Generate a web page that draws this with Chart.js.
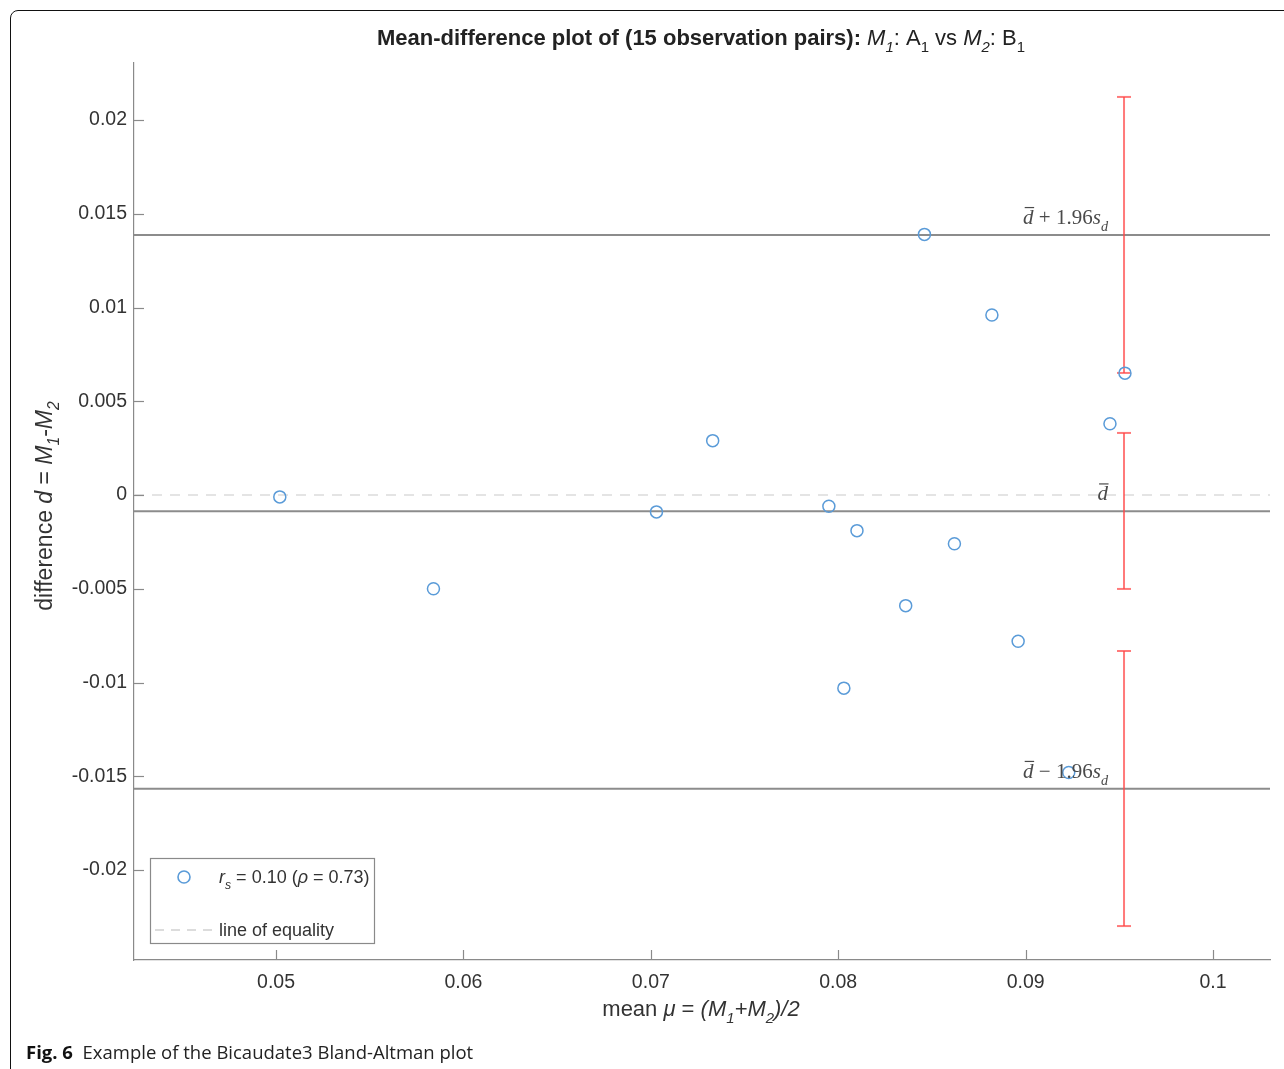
<!DOCTYPE html>
<html>
<head>
<meta charset="utf-8">
<script src="https://cdn.jsdelivr.net/npm/chart.js@4.4.1/dist/chart.umd.min.js"></script>
<style>
  html, body { margin: 0; padding: 0; background: #fff; width: 1284px; height: 1069px; overflow: hidden; }
  #wrap { position: relative; width: 1284px; height: 1069px; }
  #c { position: absolute; left: 0; top: 0; }
  #frame { position: absolute; left: 10px; top: 10px; width: 1400px; height: 1200px; border: 1.5px solid #111; border-radius: 8px; pointer-events: none; }
  #cap { position: absolute; left: 26px; top: 1040px; font-family: "Open Sans", sans-serif; font-size: 18.5px; line-height: 24px; color: #222; white-space: pre; }
  #cap b { color: #111; }
</style>
</head>
<body>
<div id="wrap">
  <canvas id="c" width="1284" height="1069"></canvas>
  <div id="frame"></div>
  <div id="cap"><b>Fig. 6</b>  Example of the Bicaudate3 Bland-Altman plot</div>
</div>
<script>
// ---- data ----
const meanVals = [0.0502, 0.0584, 0.0703, 0.0733, 0.0795, 0.0803, 0.0810, 0.0836, 0.0846, 0.0862, 0.0882, 0.0896, 0.0923, 0.0945, 0.0953];
const diffVals = [-0.0001, -0.0050, -0.0009, 0.0029, -0.0006, -0.0103, -0.0019, -0.0059, 0.0139, -0.0026, 0.0096, -0.0078, -0.0148, 0.0038, 0.0065];
const meanDiff = -0.00087;
const upperLoA = 0.01387;
const lowerLoA = -0.01567;
const ciX = 0.09525;
const upperCI = [0.00651, 0.02123];
const meanCI = [-0.00501, 0.00331];
const lowerCI = [-0.02299, -0.00832];
const equalityY = 0;
const xTicks = [0.05, 0.06, 0.07, 0.08, 0.09, 0.1];
const yTicks = [-0.02, -0.015, -0.01, -0.005, 0, 0.005, 0.01, 0.015, 0.02];
const xTickLabels = ["0.05", "0.06", "0.07", "0.08", "0.09", "0.1"];
const yTickLabels = ["-0.02", "-0.015", "-0.01", "-0.005", "0", "0.005", "0.01", "0.015", "0.02"];
const X_MIN = 0.04242, X_MAX = 0.10304;
const Y_MIN = -0.0248, Y_MAX = 0.02304;

const SANS = '"Liberation Sans", Arial, sans-serif';
const SERIF = '"Liberation Serif", "DejaVu Serif", serif';
const AXIS_GRAY = '#8a8a8a';
const RED = 'rgba(255,70,70,0.72)';

function segFont(s, size, family) {
  const sz = s.sub ? size * 0.68 : size;
  return (s.i ? 'italic ' : '') + (s.b ? 'bold ' : '') + sz + 'px ' + family;
}
function rich(ctx, segs, x, y, size, family, color, align) {
  ctx.save();
  ctx.fillStyle = color;
  ctx.strokeStyle = color;
  ctx.textBaseline = 'alphabetic';
  ctx.textAlign = 'left';
  let total = 0;
  const widths = segs.map(s => { ctx.font = segFont(s, size, family); const w = ctx.measureText(s.t).width; total += w; return w; });
  let cx = align === 'center' ? x - total / 2 : (align === 'right' ? x - total : x);
  segs.forEach((s, k) => {
    ctx.font = segFont(s, size, family);
    const dy = s.sub ? size * 0.32 : 0;
    ctx.fillText(s.t, cx, y + dy);
    if (s.ol) {
      ctx.lineWidth = 1.2;
      ctx.beginPath();
      ctx.moveTo(cx + widths[k] * 0.15, y - size * 0.78);
      ctx.lineTo(cx + widths[k] * 1.05, y - size * 0.78);
      ctx.stroke();
    }
    cx += widths[k];
  });
  ctx.restore();
}

const decorPlugin = {
  id: 'decor',
  afterDatasetsDraw(chart) {
    const ctx = chart.ctx;
    const xs = chart.scales.x, ys = chart.scales.y;
    const ca = chart.chartArea;
    // inward tick marks
    ctx.save();
    ctx.strokeStyle = AXIS_GRAY;
    ctx.lineWidth = 1.2;
    xTicks.forEach(v => {
      const px = Math.round(xs.getPixelForValue(v)) + 0.5;
      ctx.beginPath(); ctx.moveTo(px, ca.bottom); ctx.lineTo(px, ca.bottom - 10); ctx.stroke();
    });
    yTicks.forEach(v => {
      const py = Math.round(ys.getPixelForValue(v)) + 0.5;
      ctx.beginPath(); ctx.moveTo(ca.left, py); ctx.lineTo(ca.left + 10, py); ctx.stroke();
    });
    ctx.restore();
    // limit annotations
    const ax = xs.getPixelForValue(ciX) - 16;
    const annColor = '#4a4a4a';
    rich(ctx, [{t: 'd', i: true, ol: true}, {t: ' + 1.96'}, {t: 's', i: true}, {t: 'd', i: true, sub: true}], ax, ys.getPixelForValue(upperLoA) - 11, 21, SERIF, annColor, 'right');
    rich(ctx, [{t: 'd', i: true, ol: true}], ax, ys.getPixelForValue(meanDiff) - 11, 21, SERIF, annColor, 'right');
    rich(ctx, [{t: 'd', i: true, ol: true}, {t: ' \u2212 1.96'}, {t: 's', i: true}, {t: 'd', i: true, sub: true}], ax, ys.getPixelForValue(lowerLoA) - 11, 21, SERIF, annColor, 'right');
  },
  afterDraw(chart) {
    const ctx = chart.ctx;
    // title
    rich(ctx, [
      {t: 'Mean-difference plot of (15 observation pairs): ', b: true},
      {t: 'M', i: true}, {t: '1', i: true, sub: true}, {t: ': A'}, {t: '1', sub: true},
      {t: ' vs '}, {t: 'M', i: true}, {t: '2', i: true, sub: true}, {t: ': B'}, {t: '1', sub: true}
    ], 701, 45, 22, SANS, '#222', 'center');
    // x label
    rich(ctx, [
      {t: 'mean '}, {t: '\u03bc', i: true}, {t: ' = '}, {t: '(M', i: true}, {t: '1', i: true, sub: true},
      {t: '+M', i: true}, {t: '2', i: true, sub: true}, {t: ')/2', i: true}
    ], 701, 1016, 22, SANS, '#333', 'center');
    // y label
    ctx.save();
    ctx.translate(52, 506);
    ctx.rotate(-Math.PI / 2);
    rich(ctx, [
      {t: 'difference '}, {t: 'd', i: true}, {t: ' = '}, {t: 'M', i: true}, {t: '1', i: true, sub: true},
      {t: '-'}, {t: 'M', i: true}, {t: '2', i: true, sub: true}
    ], 0, 0, 23, SANS, '#333', 'center');
    ctx.restore();
    // legend box
    ctx.save();
    ctx.fillStyle = '#fff';
    ctx.fillRect(150, 858, 224, 85);
    ctx.strokeStyle = '#8a8a8a';
    ctx.lineWidth = 1.2;
    ctx.strokeRect(150.5, 858.5, 224, 85);
    ctx.strokeStyle = '#5a9bd8';
    ctx.lineWidth = 1.6;
    ctx.beginPath(); ctx.arc(184, 877, 6, 0, Math.PI * 2); ctx.stroke();
    ctx.strokeStyle = '#dcdcdc';
    ctx.lineWidth = 2;
    ctx.setLineDash([9, 7]);
    ctx.beginPath(); ctx.moveTo(155, 930); ctx.lineTo(212, 930); ctx.stroke();
    ctx.restore();
    rich(ctx, [{t: 'r', i: true}, {t: 's', i: true, sub: true}, {t: ' = 0.10 ('}, {t: '\u03c1', i: true}, {t: ' = 0.73)'}], 219, 883, 18, SANS, '#333', 'left');
    rich(ctx, [{t: 'line of equality'}], 219, 936, 18, SANS, '#333', 'left');
  }
};

const pts = meanVals.map((m, k) => ({x: m, y: diffVals[k]}));
const hline = (y) => [{x: X_MIN, y: y}, {x: X_MAX, y: y}];
const vbar = (r) => [{x: ciX, y: r[0]}, {x: ciX, y: r[1]}];
const lineDs = (data, color, width, dash) => ({
  data: data, showLine: true, borderColor: color, borderWidth: width, borderDash: dash || [],
  pointRadius: 0, pointHoverRadius: 0, fill: false, order: 2
});
const barDs = (r) => ({
  data: vbar(r), showLine: true, borderColor: RED, borderWidth: 2,
  pointStyle: 'line', pointRadius: 7, pointBorderWidth: 2, pointBorderColor: RED, pointHoverRadius: 7,
  fill: false, order: 1
});

new Chart(document.getElementById('c'), {
  type: 'scatter',
  data: {
    datasets: [
      { data: pts, pointStyle: 'circle', pointRadius: 6, pointBorderWidth: 1.5, pointBorderColor: '#5a9bd8', pointBackgroundColor: 'rgba(0,0,0,0)', showLine: false, order: 0 },
      barDs(upperCI), barDs(meanCI), barDs(lowerCI),
      lineDs(hline(upperLoA), '#8c8c8c', 2),
      lineDs(hline(meanDiff), '#8c8c8c', 2),
      lineDs(hline(lowerLoA), '#8c8c8c', 2),
      lineDs(hline(equalityY), '#dcdcdc', 1.6, [10, 8])
    ]
  },
  options: {
    responsive: false,
    animation: false,
    devicePixelRatio: 1,
    layout: { padding: { top: 63, right: 14, left: 0, bottom: 0 } },
    plugins: { legend: { display: false }, tooltip: { enabled: false }, title: { display: false } },
    scales: {
      x: {
        type: 'linear', min: X_MIN, max: X_MAX,
        afterBuildTicks: s => { s.ticks = xTicks.map(v => ({value: v})); },
        afterFit: s => { s.height = 109; },
        ticks: { callback: (v) => xTickLabels[xTicks.indexOf(v)] ?? '', font: {family: SANS, size: 19.5}, color: '#333', padding: 11, maxRotation: 0, autoSkip: false },
        grid: { display: false, drawTicks: false },
        border: { display: true, color: AXIS_GRAY, width: 1.2 }
      },
      y: {
        type: 'linear', min: Y_MIN, max: Y_MAX,
        afterBuildTicks: s => { s.ticks = yTicks.map(v => ({value: v})); },
        afterFit: s => { s.width = 134; },
        ticks: { callback: (v) => yTickLabels[yTicks.indexOf(v)] ?? '', font: {family: SANS, size: 19.5}, color: '#333', padding: 7, autoSkip: false },
        grid: { display: false, drawTicks: false },
        border: { display: true, color: AXIS_GRAY, width: 1.2 }
      }
    }
  },
  plugins: [decorPlugin]
});
</script>
</body>
</html>
